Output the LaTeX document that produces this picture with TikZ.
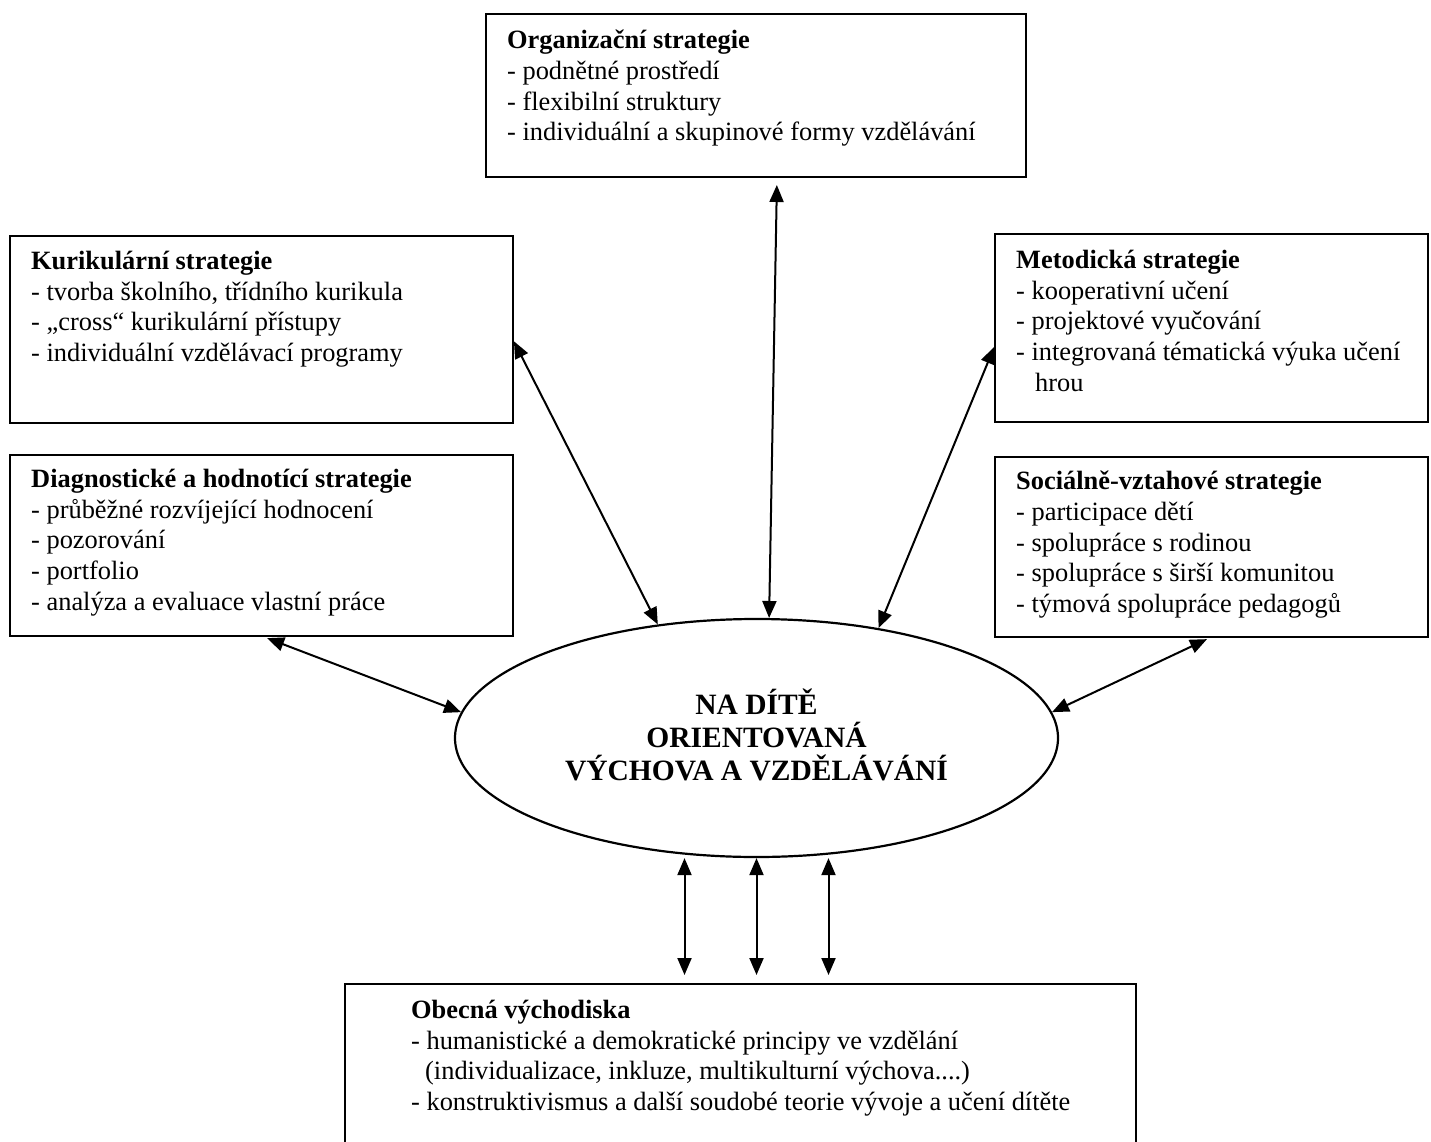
\documentclass[tikz,border=0pt]{standalone}
\usepackage{fontspec}
\setmainfont{Liberation Serif}
\usetikzlibrary{shapes.geometric,arrows.meta}

\begin{document}
\begin{tikzpicture}
  [x=1pt,y=-1pt,
   box/.style={draw,line width=2.2pt,inner sep=0pt,outer sep=0pt,anchor=north west},
   txt/.style={anchor=north west,inner sep=0pt,align=left,
     execute at begin node={\rule{0pt}{21.5pt}},
     font=\fontsize{26.4}{30.7}\selectfont},
   dbl/.style={{Triangle[length=17pt,width=14pt]}-{Triangle[length=17pt,width=14pt]},line width=2pt}]
  \useasboundingbox[fill=white] (0,0) rectangle (1431,1142);

  % strategy boxes
  \node[box,minimum width=540pt,minimum height=163pt] (org) at (486,14) {};
  \node[box,minimum width=503pt,minimum height=187pt] (kurik) at (10,236) {};
  \node[box,minimum width=503pt,minimum height=181pt] (diag) at (10,455) {};
  \node[box,minimum width=433pt,minimum height=188pt] (metod) at (995,234) {};
  \node[box,minimum width=433pt,minimum height=180pt] (social) at (995,457) {};
  \node[box,draw=none,minimum width=791pt,minimum height=158pt] (obecna) at (345,984) {};
  \draw[line width=2.2pt] (obecna.south west) -- (obecna.north west)
    -- (obecna.north east) -- (obecna.south east);

  \node[txt] (orgT) at ([shift={(21pt,-16pt)}]org.north west)
    {\textbf{Organizační strategie}\\- podnětné prostředí\\- flexibilní struktury\\- individuální a skupinové formy vzdělávání};
  \node[txt] (kurikT) at ([shift={(21pt,-15pt)}]kurik.north west)
    {\textbf{Kurikulární strategie}\\- tvorba školního, třídního kurikula\\- „cross“ kurikulární přístupy\\- individuální vzdělávací programy};
  \node[txt] (diagT) at ([shift={(21pt,-14pt)}]diag.north west)
    {\textbf{Diagnostické a hodnotící strategie}\\- průběžné rozvíjející hodnocení\\- pozorování\\- portfolio\\- analýza a evaluace vlastní práce};
  \node[txt] (metodT) at ([shift={(21pt,-16pt)}]metod.north west)
    {\textbf{Metodická strategie}\\- kooperativní učení\\- projektové vyučování\\- integrovaná tématická výuka učení\\\hspace*{19pt}hrou};
  \node[txt] (socialT) at ([shift={(21pt,-14pt)}]social.north west)
    {\textbf{Sociálně-vztahové strategie}\\- participace dětí\\- spolupráce s rodinou\\- spolupráce s širší komunitou\\- týmová spolupráce pedagogů};
  \node[txt] (obecnaT) at ([shift={(66pt,-16pt)}]obecna.north west)
    {\textbf{Obecná východiska}\\- humanistické a demokratické principy ve vzdělání\\\hspace*{14pt}(individualizace, inkluze, multikulturní výchova....)\\- konstruktivismus a další soudobé teorie vývoje a učení dítěte};

  % centre
  \node[draw,ellipse,line width=2.2pt,inner sep=0pt,minimum width=603pt,minimum height=238pt] (ctr) at (756.5,738) {};
  \node[align=center,inner sep=0pt,font=\bfseries\fontsize{29.5}{33}\selectfont] (ctrT) at (756.5,735)
    {NA DÍTĚ\\ORIENTOVANÁ\\VÝCHOVA A VZDĚLÁVÁNÍ};

  % links
  \draw[dbl,shorten <=8pt] ([xshift=21pt]org.south) -- (ctr.84);
  \draw[dbl,shorten <=2pt] ([yshift=-10pt]kurik.east) -- (ctr.131);
  \draw[dbl,shorten <=2pt] ([yshift=-17pt]metod.west) -- (ctr.42);
  \draw[dbl,shorten <=6pt] (diag.south) -- (ctr.175);
  \draw[dbl,shorten <=5pt] (social.south) -- (ctr.5);
  \foreach \dx in {-72,0,72}
    \draw[dbl,shorten >=9pt] ([xshift=\dx pt]ctr.south) -- ([xshift=\dx pt]ctr.south |- obecna.north);
\end{tikzpicture}
\end{document}
